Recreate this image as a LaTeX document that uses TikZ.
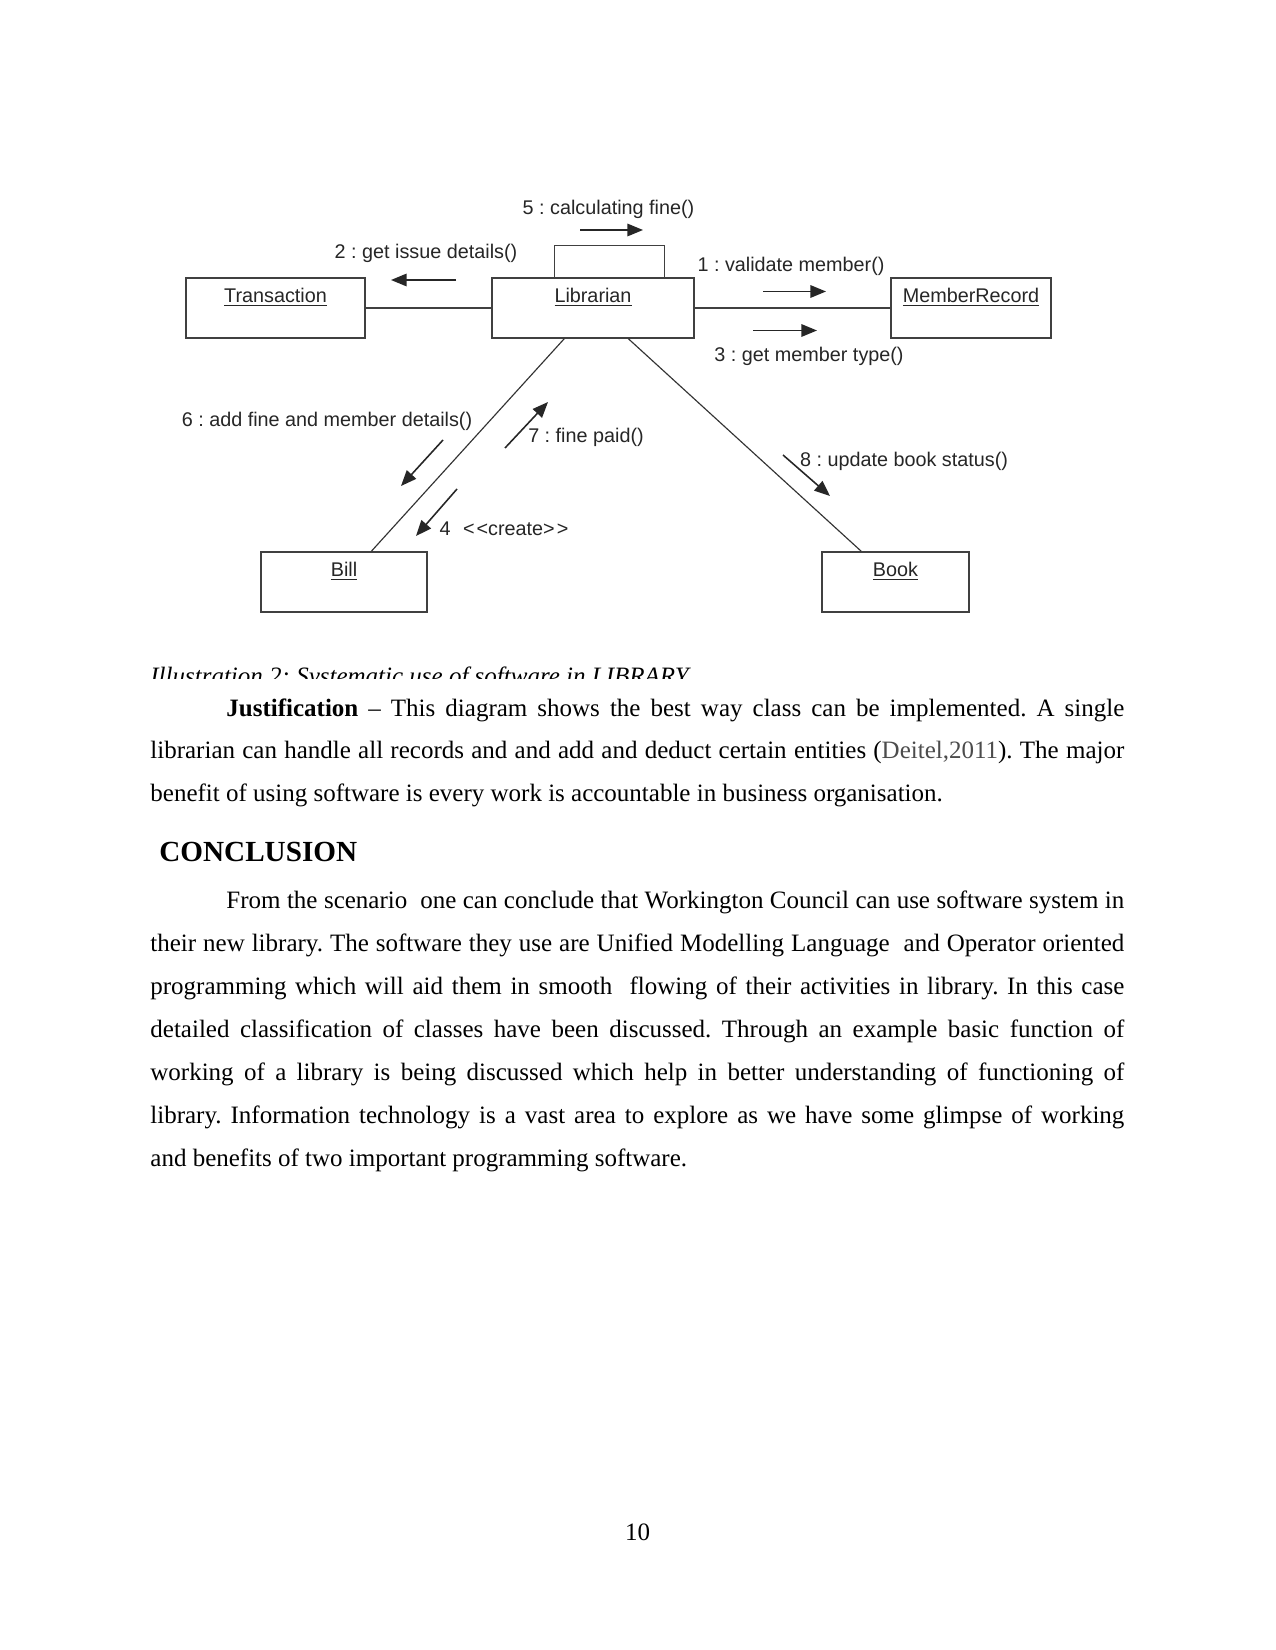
\documentclass[tikz,border=0pt]{standalone}
\usepackage{fontspec}
\setmainfont{Liberation Serif}
\newfontfamily\diagfont{Liberation Sans}
\usetikzlibrary{arrows.meta,calc}
\frenchspacing
\begin{document}
\begin{tikzpicture}[x=0.48pt,y=-0.48pt,
  objbox/.style={draw=black!75, line width=0.65pt, fill=white, minimum height=28.8pt, inner sep=0pt},
  objname/.style={anchor=base, yshift=-12pt, inner sep=0pt, font=\diagfont\fontsize{9.5}{11}\selectfont, text=black!85},
  conn/.style={draw=black!75, line width=0.65pt},
  diag/.style={draw=black!80, line width=0.55pt},
  msg/.style={draw=black!85, line width=0.75pt, -{Triangle[length=7.5pt,width=6pt]}},
  msglabel/.style={anchor=base, inner sep=0pt, font=\diagfont\fontsize{9.5}{11}\selectfont, text=black!85},
  bodyline/.style={anchor=base west, inner sep=0pt, font=\fontsize{12}{14}\selectfont},
]
\fill[white] (0,0) rectangle (1275,1650);
\useasboundingbox (0,0) rectangle (1275,1650);

% objects
\node[objbox, minimum width=85.9pt, label={[objname]north:\underline{Transaction}}] (trans) at (275.5,308) {};
\node[objbox, minimum width=97pt, label={[objname]north:\underline{Librarian}}] (lib) at (593,308) {};
\node[objbox, minimum width=76.8pt, label={[objname]north:\underline{MemberRecord}}] (mem) at (971,308) {};
\node[objbox, minimum width=79.7pt, label={[objname]north:\underline{Bill}}] (bill) at (344,582) {};
\node[objbox, minimum width=70.6pt, label={[objname]north:\underline{Book}}] (book) at (895.5,582) {};

% links
\draw[conn] (trans.east) -- (lib.west);
\draw[conn] (lib.east) -- (mem.west);
\coordinate (loopL) at ($(lib.north west)+(63,0)$);
\coordinate (loopR) at ($(lib.north west)+(173,0)$);
\draw[conn] (loopL) -- ++(0,-31.5) -| (loopR);
\coordinate (libB1) at ($(lib.south west)+(73,0)$);
\coordinate (billT) at ($(bill.north west)+(111,0)$);
\draw[diag] (libB1) -- (billT);
\coordinate (libB2) at ($(lib.south west)+(137,0)$);
\coordinate (bookT) at ($(book.north west)+(40,0)$);
\draw[diag] (libB2) -- (bookT);

% messages
\coordinate (a5s) at (580,230);  \coordinate (a5e) at (643,230);
\coordinate (a2s) at (456,280);  \coordinate (a2e) at (391,280);
\coordinate (a1s) at (763,291.5);\coordinate (a1e) at (826,291.5);
\coordinate (a3s) at (753,330.5);\coordinate (a3e) at (817,330.5);
\coordinate (a6s) at (443,440);  \coordinate (a6e) at (401,486);
\coordinate (a7s) at (505,448);  \coordinate (a7e) at (548,402);
\coordinate (a4s) at (457,489);  \coordinate (a4e) at (416,536);
\coordinate (a8s) at (783,455);  \coordinate (a8e) at (830,496);
\draw[msg] (a5s) -- (a5e);
\draw[msg] (a2s) -- (a2e);
\draw[msg] (a1s) -- (a1e);
\draw[msg] (a3s) -- (a3e);
\draw[msg] (a6s) -- (a6e);
\draw[msg] (a7s) -- (a7e);
\draw[msg] (a4s) -- (a4e);
\draw[msg] (a8s) -- (a8e);

\node[msglabel] (l5) at (608.5,215) {5 : calculating fine()};
\node[msglabel] (l2) at (426,259) {2 : get issue details()};
\node[msglabel] (l1) at (791,271.5) {1 : validate member()};
\node[msglabel] (l3) at (809,361.5) {3 : get member type()};
\node[msglabel] (l6) at (327,426.5) {6 : add fine and member details()};
\node[msglabel] (l7) at (586,442.5) {7 : fine paid()};
\node[msglabel] (l4) at (504,535) {4\hspace{6pt}<\kern1pt<create>\kern1pt>};
\node[msglabel] (l8) at (904,466.5) {8 : update book status()};

% caption (clipped)
\begin{scope}
\clip (0,0) rectangle (1275,678);
\node[bodyline, font=\fontsize{12}{14}\itshape] (cap) at (150,684.5) {Illustration 2: Systematic use of software in LIBRARY};
\end{scope}

% justification paragraph
\node[bodyline] (p1a) at (226,716) {\makebox[431pt][s]{\textbf{Justification} – This diagram shows the best way class can be implemented. A single}};
\node[bodyline] (p1b) at (150,758.5) {\makebox[467.5pt][s]{librarian can handle all records and and add and deduct certain entities (\textcolor{black!70}{Deitel,2011}). The major}};
\node[bodyline] (p1c) at (150,801) {benefit of using software is every work is accountable in business organisation.};

% heading
\node[bodyline, font=\fontsize{14}{16}\bfseries] (head) at (159,861) {CONCLUSION};

% conclusion paragraph
\node[bodyline] (p2a) at (226,908) {\makebox[431pt][s]{From the scenario\ \ one can conclude that Workington Council can use software system in}};
\node[bodyline] (p2b) at (150,951) {\makebox[467.5pt][s]{their new library. The software they use are Unified Modelling Language\ \ and Operator oriented}};
\node[bodyline] (p2c) at (150,994) {\makebox[467.5pt][s]{programming which will aid them in smooth\ \ flowing of their activities in library. In this case}};
\node[bodyline] (p2d) at (150,1037) {\makebox[467.5pt][s]{detailed classification of classes have been discussed. Through an example basic function of}};
\node[bodyline] (p2e) at (150,1080) {\makebox[467.5pt][s]{working of a library is being discussed which help in better understanding of functioning of}};
\node[bodyline] (p2f) at (150,1123) {\makebox[467.5pt][s]{library. Information technology is a vast area to explore as we have some glimpse of working}};
\node[bodyline] (p2g) at (150,1166) {and benefits of two important programming software.};

% page number
\node[bodyline, anchor=base] (pg) at (637.5,1540) {10};
\end{tikzpicture}
\end{document}
